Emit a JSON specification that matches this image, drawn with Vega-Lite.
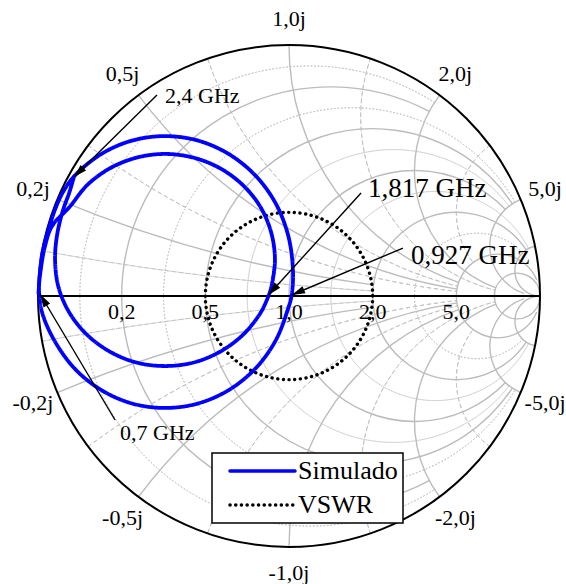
{
  "$schema": "https://vega.github.io/schema/vega-lite/v6.json",
  "width": 502,
  "height": 502,
  "autosize": {"type": "none"},
  "padding": {"left": 38, "top": 45, "right": 26, "bottom": 37},
  "background": "white",
  "config": {"view": {"stroke": null}, "font": "Liberation Serif"},
  "datasets": {
    "rmajor": [
      {"r": 0.2, "e": 2}, {"r": 0.5, "e": 5}, {"r": 1, "e": 5},
      {"r": 2, "e": 10}, {"r": 5, "e": 30}, {"r": 10, "e": 10000}
    ],
    "rminor": [
      {"r": 0.0909, "e": 2}, {"r": 0.3333, "e": 5}, {"r": 0.7143, "e": 5},
      {"r": 1.4, "e": 10}, {"r": 3, "e": 10}
    ],
    "xmajor": [
      {"xv": 0.2, "e": 2}, {"xv": 0.5, "e": 5}, {"xv": 1, "e": 5},
      {"xv": 2, "e": 10}, {"xv": 5, "e": 30}, {"xv": 10, "e": 10000},
      {"xv": -0.2, "e": 2}, {"xv": -0.5, "e": 5}, {"xv": -1, "e": 5},
      {"xv": -2, "e": 10}, {"xv": -5, "e": 30}, {"xv": -10, "e": 10000}
    ],
    "xminor": [
      {"xv": 0.0909, "e": 2}, {"xv": 0.3333, "e": 5}, {"xv": 0.7143, "e": 5},
      {"xv": 1.4, "e": 10}, {"xv": 3, "e": 5},
      {"xv": -0.0909, "e": 2}, {"xv": -0.3333, "e": 5}, {"xv": -0.7143, "e": 5},
      {"xv": -1.4, "e": 10}, {"xv": -3, "e": 5}
    ],
    "vswr": [{"serie": "VSWR", "vswr": 2}],
    "trace": [
      {"n": 0, "re": -0.998, "im": 0.008, "serie": "Simulado"},
      {"n": 1, "re": -0.993, "im": 0.084, "serie": "Simulado"},
      {"n": 2, "re": -0.982, "im": 0.175, "serie": "Simulado"},
      {"n": 3, "re": -0.958, "im": 0.265, "serie": "Simulado"},
      {"n": 4, "re": -0.932, "im": 0.345, "serie": "Simulado"},
      {"n": 5, "re": -0.900, "im": 0.415, "serie": "Simulado"},
      {"n": 6, "re": -0.855, "im": 0.478, "serie": "Simulado"},
      {"n": 7, "re": -0.749, "im": 0.565, "serie": "Simulado"},
      {"n": 8, "re": -0.626, "im": 0.619, "serie": "Simulado"},
      {"n": 9, "re": -0.494, "im": 0.637, "serie": "Simulado"},
      {"n": 10, "re": -0.362, "im": 0.619, "serie": "Simulado"},
      {"n": 11, "re": -0.239, "im": 0.565, "serie": "Simulado"},
      {"n": 12, "re": -0.133, "im": 0.479, "serie": "Simulado"},
      {"n": 13, "re": -0.052, "im": 0.367, "serie": "Simulado"},
      {"n": 14, "re": -0.002, "im": 0.236, "serie": "Simulado"},
      {"n": 15, "re": 0.016, "im": 0.096, "serie": "Simulado"},
      {"n": 16, "re": 0.010, "im": 0.000, "serie": "Simulado"},
      {"n": 17, "re": -0.002, "im": -0.045, "serie": "Simulado"},
      {"n": 18, "re": -0.052, "im": -0.175, "serie": "Simulado"},
      {"n": 19, "re": -0.133, "im": -0.288, "serie": "Simulado"},
      {"n": 20, "re": -0.239, "im": -0.374, "serie": "Simulado"},
      {"n": 21, "re": -0.362, "im": -0.428, "serie": "Simulado"},
      {"n": 22, "re": -0.494, "im": -0.446, "serie": "Simulado"},
      {"n": 23, "re": -0.626, "im": -0.428, "serie": "Simulado"},
      {"n": 24, "re": -0.749, "im": -0.374, "serie": "Simulado"},
      {"n": 25, "re": -0.855, "im": -0.288, "serie": "Simulado"},
      {"n": 26, "re": -0.936, "im": -0.175, "serie": "Simulado"},
      {"n": 27, "re": -0.984, "im": -0.064, "serie": "Simulado"},
      {"n": 28, "re": -0.996, "im": 0.024, "serie": "Simulado"},
      {"n": 29, "re": -0.988, "im": 0.112, "serie": "Simulado"},
      {"n": 30, "re": -0.972, "im": 0.199, "serie": "Simulado"},
      {"n": 31, "re": -0.944, "im": 0.279, "serie": "Simulado"},
      {"n": 32, "re": -0.874, "im": 0.355, "serie": "Simulado"},
      {"n": 33, "re": -0.804, "im": 0.442, "serie": "Simulado"},
      {"n": 34, "re": -0.713, "im": 0.509, "serie": "Simulado"},
      {"n": 35, "re": -0.608, "im": 0.551, "serie": "Simulado"},
      {"n": 36, "re": -0.494, "im": 0.566, "serie": "Simulado"},
      {"n": 37, "re": -0.380, "im": 0.551, "serie": "Simulado"},
      {"n": 38, "re": -0.275, "im": 0.509, "serie": "Simulado"},
      {"n": 39, "re": -0.184, "im": 0.442, "serie": "Simulado"},
      {"n": 40, "re": -0.114, "im": 0.355, "serie": "Simulado"},
      {"n": 41, "re": -0.071, "im": 0.253, "serie": "Simulado"},
      {"n": 42, "re": -0.056, "im": 0.143, "serie": "Simulado"},
      {"n": 43, "re": -0.071, "im": 0.034, "serie": "Simulado"},
      {"n": 44, "re": -0.082, "im": 0.000, "serie": "Simulado"},
      {"n": 45, "re": -0.114, "im": -0.068, "serie": "Simulado"},
      {"n": 46, "re": -0.184, "im": -0.155, "serie": "Simulado"},
      {"n": 47, "re": -0.275, "im": -0.222, "serie": "Simulado"},
      {"n": 48, "re": -0.380, "im": -0.265, "serie": "Simulado"},
      {"n": 49, "re": -0.494, "im": -0.279, "serie": "Simulado"},
      {"n": 50, "re": -0.608, "im": -0.265, "serie": "Simulado"},
      {"n": 51, "re": -0.713, "im": -0.222, "serie": "Simulado"},
      {"n": 52, "re": -0.804, "im": -0.155, "serie": "Simulado"},
      {"n": 53, "re": -0.874, "im": -0.068, "serie": "Simulado"},
      {"n": 54, "re": -0.918, "im": 0.034, "serie": "Simulado"},
      {"n": 55, "re": -0.932, "im": 0.143, "serie": "Simulado"},
      {"n": 56, "re": -0.924, "im": 0.243, "serie": "Simulado"},
      {"n": 57, "re": -0.900, "im": 0.343, "serie": "Simulado"},
      {"n": 58, "re": -0.876, "im": 0.410, "serie": "Simulado"},
      {"n": 59, "re": -0.857, "im": 0.474, "serie": "Simulado"}
    ],
    "ann": [
      {"f": "2,4 GHz", "re": -0.857, "im": 0.474, "are": -0.526, "aim": 0.801, "lre": -0.494, "lim": 0.797},
      {"f": "1,817 GHz", "re": -0.082, "im": 0.004, "are": 0.287, "aim": 0.410, "lre": 0.315, "lim": 0.426},
      {"f": "0,927 GHz", "re": 0.011, "im": 0.004, "are": 0.454, "aim": 0.191, "lre": 0.486, "lim": 0.159},
      {"f": "0,7 GHz", "re": -0.992, "im": 0.008, "are": -0.693, "aim": -0.494, "lre": -0.673, "lim": -0.546}
    ],
    "xlab": [
      {"xv": 1, "label": "1,0j"}, {"xv": 0.5, "label": "0,5j"}, {"xv": 2, "label": "2,0j"},
      {"xv": 0.2, "label": "0,2j"}, {"xv": 5, "label": "5,0j"}, {"xv": -0.2, "label": "-0,2j"},
      {"xv": -5, "label": "-5,0j"}, {"xv": -0.5, "label": "-0,5j"}, {"xv": -2, "label": "-2,0j"},
      {"xv": -1, "label": "-1,0j"}
    ],
    "rlab": [
      {"r": 0.2, "label": "0,2"}, {"r": 0.5, "label": "0,5"}, {"r": 1, "label": "1,0"},
      {"r": 2, "label": "2,0"}, {"r": 5, "label": "5,0"}
    ]
  },
  "layer": [
    {
      "data": {"name": "rminor"},
      "transform": [
        {"calculate": "datum.r/(1+datum.r)", "as": "cx"},
        {"calculate": "1/(1+datum.r)", "as": "rho"},
        {"calculate": "pow(datum.r+1,2)+datum.e*datum.e", "as": "D"},
        {"calculate": "atan2((datum.r*datum.r+datum.e*datum.e-1)/datum.D-datum.cx, 2*datum.e/datum.D)", "as": "t0"},
        {"calculate": "-PI-datum.t0", "as": "t1"}
      ],
      "mark": {"type": "arc", "filled": false, "stroke": "#c4c4c4", "strokeWidth": 1, "strokeDash": [1.5, 2]},
      "encoding": {
        "x": {"field": "cx", "type": "quantitative", "stack": null, "scale": {"domain": [-1, 1], "nice": false, "zero": false}, "axis": null},
        "y": {"datum": 0, "type": "quantitative", "stack": null, "scale": {"domain": [-1, 1], "nice": false, "zero": false}, "axis": null},
        "theta": {"field": "t0", "type": "quantitative", "scale": null, "stack": null},
        "theta2": {"field": "t1"},
        "radius": {"field": "rho", "type": "quantitative", "stack": null, "scale": {"type": "linear", "domain": [0, 1], "range": [0, 251], "zero": true}},
        "radius2": {"field": "rho"}
      }
    },
    {
      "data": {"name": "xminor"},
      "transform": [
        {"calculate": "1/datum.xv", "as": "cy"},
        {"calculate": "abs(1/datum.xv)", "as": "rho"},
        {"calculate": "atan2(-2/(datum.xv*datum.xv+1), 2*datum.xv/(datum.xv*datum.xv+1)-datum.cy)", "as": "t0"},
        {"calculate": "pow(datum.e+1,2)+datum.xv*datum.xv", "as": "D"},
        {"calculate": "atan2((datum.e*datum.e+datum.xv*datum.xv-1)/datum.D-1, 2*datum.xv/datum.D-datum.cy)", "as": "t1"}
      ],
      "mark": {"type": "arc", "filled": false, "stroke": "#c4c4c4", "strokeWidth": 1, "strokeDash": [4, 3]},
      "encoding": {
        "x": {"datum": 1, "type": "quantitative", "stack": null, "scale": {"domain": [-1, 1], "nice": false, "zero": false}, "axis": null},
        "y": {"field": "cy", "type": "quantitative", "stack": null, "scale": {"domain": [-1, 1], "nice": false, "zero": false}, "axis": null},
        "theta": {"field": "t0", "type": "quantitative", "scale": null, "stack": null},
        "theta2": {"field": "t1"},
        "radius": {"field": "rho", "type": "quantitative", "stack": null, "scale": {"type": "linear", "domain": [0, 1], "range": [0, 251], "zero": true}},
        "radius2": {"field": "rho"}
      }
    },
    {
      "data": {"name": "rmajor"},
      "transform": [
        {"calculate": "datum.r/(1+datum.r)", "as": "cx"},
        {"calculate": "1/(1+datum.r)", "as": "rho"},
        {"calculate": "pow(datum.r+1,2)+datum.e*datum.e", "as": "D"},
        {"calculate": "atan2((datum.r*datum.r+datum.e*datum.e-1)/datum.D-datum.cx, 2*datum.e/datum.D)", "as": "t0"},
        {"calculate": "-PI-datum.t0", "as": "t1"}
      ],
      "mark": {"type": "arc", "filled": false, "stroke": "#bcbcbc", "strokeWidth": 1.4},
      "encoding": {
        "x": {"field": "cx", "type": "quantitative", "stack": null, "scale": {"domain": [-1, 1], "nice": false, "zero": false}, "axis": null},
        "y": {"datum": 0, "type": "quantitative", "stack": null, "scale": {"domain": [-1, 1], "nice": false, "zero": false}, "axis": null},
        "theta": {"field": "t0", "type": "quantitative", "scale": null, "stack": null},
        "theta2": {"field": "t1"},
        "radius": {"field": "rho", "type": "quantitative", "stack": null, "scale": {"type": "linear", "domain": [0, 1], "range": [0, 251], "zero": true}},
        "radius2": {"field": "rho"}
      }
    },
    {
      "data": {"name": "xmajor"},
      "transform": [
        {"calculate": "1/datum.xv", "as": "cy"},
        {"calculate": "abs(1/datum.xv)", "as": "rho"},
        {"calculate": "atan2(-2/(datum.xv*datum.xv+1), 2*datum.xv/(datum.xv*datum.xv+1)-datum.cy)", "as": "t0"},
        {"calculate": "pow(datum.e+1,2)+datum.xv*datum.xv", "as": "D"},
        {"calculate": "atan2((datum.e*datum.e+datum.xv*datum.xv-1)/datum.D-1, 2*datum.xv/datum.D-datum.cy)", "as": "t1"}
      ],
      "mark": {"type": "arc", "filled": false, "stroke": "#bcbcbc", "strokeWidth": 1.4},
      "encoding": {
        "x": {"datum": 1, "type": "quantitative", "stack": null, "scale": {"domain": [-1, 1], "nice": false, "zero": false}, "axis": null},
        "y": {"field": "cy", "type": "quantitative", "stack": null, "scale": {"domain": [-1, 1], "nice": false, "zero": false}, "axis": null},
        "theta": {"field": "t0", "type": "quantitative", "scale": null, "stack": null},
        "theta2": {"field": "t1"},
        "radius": {"field": "rho", "type": "quantitative", "stack": null, "scale": {"type": "linear", "domain": [0, 1], "range": [0, 251], "zero": true}},
        "radius2": {"field": "rho"}
      }
    },
    {
      "data": {"values": [{}]},
      "mark": {"type": "rule", "color": "black", "strokeWidth": 2},
      "encoding": {
        "x": {"datum": -1, "type": "quantitative", "scale": {"domain": [-1, 1], "nice": false, "zero": false}, "axis": null},
        "x2": {"datum": 1},
        "y": {"datum": 0, "type": "quantitative", "scale": {"domain": [-1, 1], "nice": false, "zero": false}, "axis": null}
      }
    },
    {
      "data": {"values": [{}]},
      "mark": {"type": "point", "filled": false, "stroke": "black", "strokeWidth": 2, "opacity": 1},
      "encoding": {
        "x": {"datum": 0, "type": "quantitative", "scale": {"domain": [-1, 1], "nice": false, "zero": false}, "axis": null},
        "y": {"datum": 0, "type": "quantitative", "scale": {"domain": [-1, 1], "nice": false, "zero": false}, "axis": null},
        "size": {"datum": 1, "type": "quantitative", "scale": {"type": "pow", "exponent": 2, "domain": [0, 1], "range": [0, 252004]}, "legend": null}
      }
    },
    {
      "data": {"name": "vswr"},
      "transform": [{"calculate": "(datum.vswr-1)/(datum.vswr+1)", "as": "rho"}],
      "mark": {"type": "point", "filled": false, "strokeWidth": 3.4, "strokeCap": "round", "opacity": 1},
      "encoding": {
        "x": {"datum": 0, "type": "quantitative", "scale": {"domain": [-1, 1], "nice": false, "zero": false}, "axis": null},
        "y": {"datum": 0, "type": "quantitative", "scale": {"domain": [-1, 1], "nice": false, "zero": false}, "axis": null},
        "size": {"field": "rho", "type": "quantitative", "scale": {"type": "pow", "exponent": 2, "domain": [0, 1], "range": [0, 252004]}, "legend": null},
        "color": {"field": "serie", "type": "nominal", "scale": {"domain": ["Simulado", "VSWR"], "range": ["#0000ff", "#000000"]},
          "legend": {"title": null, "orient": "none", "legendX": 174, "legendY": 408, "symbolType": "M0,0L10,0", "symbolSize": 169, "symbolStrokeWidth": 3.5, "symbolOffset": 0, "labelFont": "Liberation Serif", "labelFontSize": 26, "labelColor": "black", "labelOffset": 55, "padding": 5, "rowPadding": 8, "strokeColor": "black", "fillColor": "white", "encode": {"symbols": {"update": {"strokeCap": {"value": "round"}}}, "legend": {"update": {"strokeWidth": {"value": 1.5}}}}}},
        "strokeDash": {"field": "serie", "type": "nominal", "scale": {"domain": ["Simulado", "VSWR"], "range": [[1, 0], [0.1, 5.6]]},
          "legend": {"title": null, "orient": "none", "legendX": 174, "legendY": 408, "symbolType": "M0,0L10,0", "symbolSize": 169, "symbolStrokeWidth": 3.5, "symbolOffset": 0, "labelFont": "Liberation Serif", "labelFontSize": 26, "labelColor": "black", "labelOffset": 55, "padding": 5, "rowPadding": 8, "strokeColor": "black", "fillColor": "white", "encode": {"symbols": {"update": {"strokeCap": {"value": "round"}}}, "legend": {"update": {"strokeWidth": {"value": 1.5}}}}}}
      }
    },
    {
      "data": {"name": "trace"},
      "mark": {"type": "line", "interpolate": "catmull-rom", "strokeWidth": 3.8},
      "encoding": {
        "x": {"field": "re", "type": "quantitative", "scale": {"domain": [-1, 1], "nice": false, "zero": false}, "axis": null},
        "y": {"field": "im", "type": "quantitative", "scale": {"domain": [-1, 1], "nice": false, "zero": false}, "axis": null},
        "order": {"field": "n", "type": "quantitative"},
        "color": {"field": "serie", "type": "nominal", "scale": {"domain": ["Simulado", "VSWR"], "range": ["#0000ff", "#000000"]},
          "legend": {"title": null, "orient": "none", "legendX": 174, "legendY": 408, "symbolType": "M0,0L10,0", "symbolSize": 169, "symbolStrokeWidth": 3.5, "symbolOffset": 0, "labelFont": "Liberation Serif", "labelFontSize": 26, "labelColor": "black", "labelOffset": 55, "padding": 5, "rowPadding": 8, "strokeColor": "black", "fillColor": "white", "encode": {"symbols": {"update": {"strokeCap": {"value": "round"}}}, "legend": {"update": {"strokeWidth": {"value": 1.5}}}}}},
        "strokeDash": {"field": "serie", "type": "nominal", "scale": {"domain": ["Simulado", "VSWR"], "range": [[1, 0], [0.1, 5.6]]},
          "legend": {"title": null, "orient": "none", "legendX": 174, "legendY": 408, "symbolType": "M0,0L10,0", "symbolSize": 169, "symbolStrokeWidth": 3.5, "symbolOffset": 0, "labelFont": "Liberation Serif", "labelFontSize": 26, "labelColor": "black", "labelOffset": 55, "padding": 5, "rowPadding": 8, "strokeColor": "black", "fillColor": "white", "encode": {"symbols": {"update": {"strokeCap": {"value": "round"}}}, "legend": {"update": {"strokeWidth": {"value": 1.5}}}}}}
      }
    },
    {
      "data": {"name": "ann"},
      "mark": {"type": "rule", "color": "black", "strokeWidth": 1.4},
      "encoding": {
        "x": {"field": "are", "type": "quantitative", "scale": {"domain": [-1, 1], "nice": false, "zero": false}, "axis": null},
        "y": {"field": "aim", "type": "quantitative", "scale": {"domain": [-1, 1], "nice": false, "zero": false}, "axis": null},
        "x2": {"field": "re"},
        "y2": {"field": "im"}
      }
    },
    {
      "data": {"name": "ann"},
      "transform": [
        {"calculate": "datum.re-datum.are", "as": "dx"},
        {"calculate": "datum.im-datum.aim", "as": "dy"},
        {"calculate": "sqrt(datum.dx*datum.dx+datum.dy*datum.dy)", "as": "len"},
        {"calculate": "datum.re-0.0279*datum.dx/datum.len", "as": "hx"},
        {"calculate": "datum.im-0.0279*datum.dy/datum.len", "as": "hy"},
        {"calculate": "atan2(datum.dx, datum.dy)*180/PI", "as": "ang"}
      ],
      "mark": {"type": "point", "shape": "M0,-1L0.55,0.9L-0.55,0.9Z", "filled": true, "color": "black", "opacity": 1, "size": 196},
      "encoding": {
        "x": {"field": "hx", "type": "quantitative", "scale": {"domain": [-1, 1], "nice": false, "zero": false}, "axis": null},
        "y": {"field": "hy", "type": "quantitative", "scale": {"domain": [-1, 1], "nice": false, "zero": false}, "axis": null},
        "angle": {"field": "ang", "type": "quantitative", "scale": null}
      }
    },
    {
      "data": {"name": "ann"},
      "transform": [{"filter": "datum.f == '2,4 GHz' || datum.f == '0,7 GHz'"}],
      "mark": {"type": "text", "align": "left", "baseline": "middle", "font": "Liberation Serif", "fontSize": 22, "color": "black"},
      "encoding": {
        "x": {"field": "lre", "type": "quantitative", "scale": {"domain": [-1, 1], "nice": false, "zero": false}, "axis": null},
        "y": {"field": "lim", "type": "quantitative", "scale": {"domain": [-1, 1], "nice": false, "zero": false}, "axis": null},
        "text": {"field": "f"}
      }
    },
    {
      "data": {"name": "ann"},
      "transform": [{"filter": "datum.f == '1,817 GHz' || datum.f == '0,927 GHz'"}],
      "mark": {"type": "text", "align": "left", "baseline": "middle", "font": "Liberation Serif", "fontSize": 27, "color": "black"},
      "encoding": {
        "x": {"field": "lre", "type": "quantitative", "scale": {"domain": [-1, 1], "nice": false, "zero": false}, "axis": null},
        "y": {"field": "lim", "type": "quantitative", "scale": {"domain": [-1, 1], "nice": false, "zero": false}, "axis": null},
        "text": {"field": "f"}
      }
    },
    {
      "data": {"name": "xlab"},
      "transform": [
        {"calculate": "1.105*(datum.xv*datum.xv-1)/(datum.xv*datum.xv+1)", "as": "lx"},
        {"calculate": "1.105*2*datum.xv/(datum.xv*datum.xv+1)", "as": "ly"}
      ],
      "mark": {"type": "text", "align": "center", "baseline": "middle", "font": "Liberation Serif", "fontSize": 22, "color": "black"},
      "encoding": {
        "x": {"field": "lx", "type": "quantitative", "scale": {"domain": [-1, 1], "nice": false, "zero": false}, "axis": null},
        "y": {"field": "ly", "type": "quantitative", "scale": {"domain": [-1, 1], "nice": false, "zero": false}, "axis": null},
        "text": {"field": "label"}
      }
    },
    {
      "data": {"name": "rlab"},
      "transform": [{"calculate": "(datum.r-1)/(datum.r+1)", "as": "lx"}],
      "mark": {"type": "text", "align": "center", "baseline": "middle", "dy": 15.5, "font": "Liberation Serif", "fontSize": 22, "color": "black"},
      "encoding": {
        "x": {"field": "lx", "type": "quantitative", "scale": {"domain": [-1, 1], "nice": false, "zero": false}, "axis": null},
        "y": {"datum": 0, "type": "quantitative", "scale": {"domain": [-1, 1], "nice": false, "zero": false}, "axis": null},
        "text": {"field": "label"}
      }
    }
  ]
}
